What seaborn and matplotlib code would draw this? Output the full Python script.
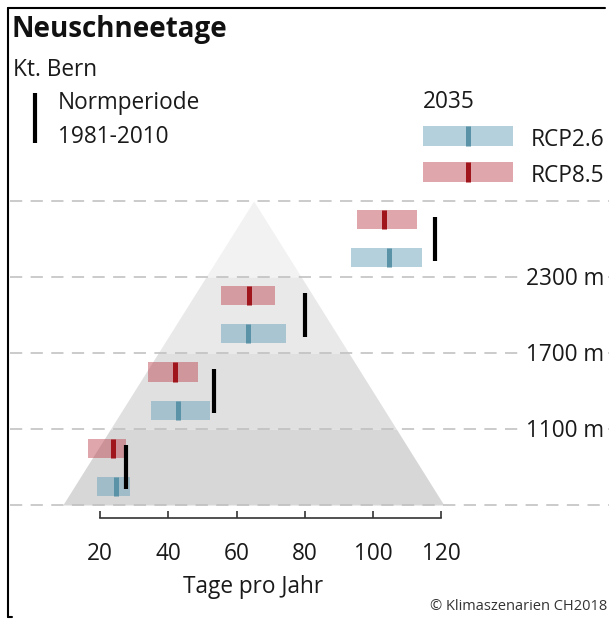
import numpy as np
import matplotlib
matplotlib.use('Agg')
import matplotlib.pyplot as plt
from matplotlib.lines import Line2D
import seaborn as sns

# Elevation bands (m), top to bottom
band_top = [2900, 2300, 1700, 1100]
band_bottom = [2300, 1700, 1100, 500]
band_labels = ['2300 m', '1700 m', '1100 m']

# Neuschneetage 2035, ranges and medians (days per year)
rcp26_low = [93.6, 55.4, 34.9, 19.0]
rcp26_high = [114.2, 74.5, 52.1, 28.9]
rcp26_median = [104.6, 63.2, 42.8, 24.6]
rcp85_low = [95.3, 55.4, 34.1, 16.6]
rcp85_high = [112.7, 71.2, 48.7, 27.7]
rcp85_median = [103.2, 63.6, 42.1, 23.8]

# Normperiode 1981-2010
normperiode = [118.1, 80.1, 53.5, 27.5]

x_ticks = [20, 40, 60, 80, 100, 120]

# colours
BLUE_BAR = '#6aa3bb'
BLUE_MED = '#5a93a8'
RED_BAR = '#c0505a'
RED_MED = '#a0141b'
BAND_GREYS = ['#f2f2f2', '#e9e9e9', '#e0e0e0', '#d7d7d7']
TXT = '#1a1a1a'
FS = 16.3

W, H = 609, 619


def fx(px):
    return px / W


def fy(py):
    return 1 - py / H


def tri_x(e):
    """left/right edge of the mountain triangle at elevation e"""
    left, right, apex, base, top = 9.1, 120.7, 65.0, 500, 2900
    f = (e - base) / (top - base)
    return left + f * (apex - left), right - f * (right - apex)


def draw_range(ax, y, low, high, med, bar_col, med_col, h=150):
    ax.barh(y, high - low, left=low, height=h, color=bar_col, alpha=0.5,
            linewidth=0, zorder=2)
    ax.plot([med, med], [y - h / 2, y + h / 2], color=med_col, lw=3.6,
            solid_capstyle='butt', zorder=3)


def main():
    sns.set_style('white')
    plt.rcParams['font.family'] = ['Open Sans', 'DejaVu Sans']

    fig = plt.figure(figsize=(W / 100, H / 100), dpi=100)
    ax = fig.add_axes([fx(10), fy(518), fx(599), (518 - 8) / H])
    ax.set_xlim(-6.35, 169.05)
    ax.set_ylim(397.4, 4423.6)

    # mountain
    for top, bottom, grey in zip(band_top, band_bottom, BAND_GREYS):
        ys = np.array([bottom, top])
        l0, r0 = tri_x(bottom)
        l1, r1 = tri_x(top)
        ax.fill_betweenx(ys, [l0, l1], [r0, r1], color=grey, lw=0, zorder=0)

    # elevation lines
    for e in [2900, 2300, 1700, 1100, 500]:
        ax.axhline(e, color='#bdbdbd', lw=1.1, dashes=(8, 5.5), zorder=1)
    for e, lab in zip(band_bottom[:3], band_labels):
        ax.text(167.6, e - 60, lab, ha='right', va='baseline', fontsize=FS,
                color=TXT, zorder=4,
                bbox=dict(facecolor='white', edgecolor='none', pad=3))

    for i in range(len(band_top)):
        top = band_top[i]
        bottom = band_bottom[i]
        draw_range(ax, top - 150, rcp85_low[i], rcp85_high[i], rcp85_median[i],
                   RED_BAR, RED_MED)
        draw_range(ax, bottom + 150, rcp26_low[i], rcp26_high[i], rcp26_median[i],
                   BLUE_BAR, BLUE_MED)
        mid = (top + bottom) / 2
        ax.plot([normperiode[i]] * 2, [mid - 170, mid + 170], color='black',
                lw=3, solid_capstyle='butt', zorder=3)

    # legend
    ax.plot([0.97, 0.97], [3358, 3752], color='black', lw=3,
            solid_capstyle='butt')
    fig.text(fx(58), fy(109), 'Normperiode', va='baseline', fontsize=FS, color=TXT)
    fig.text(fx(58), fy(143), '1981-2010', va='baseline', fontsize=FS, color=TXT)
    fig.text(fx(423), fy(108), '2035', va='baseline', fontsize=FS, color=TXT)
    draw_range(ax, 3415, 114.7, 140.8, 127.8, BLUE_BAR, BLUE_MED, h=158)
    draw_range(ax, 3126, 114.7, 140.8, 127.8, RED_BAR, RED_MED, h=158)
    fig.text(fx(531), fy(145.5), 'RCP2.6', va='baseline', fontsize=FS, color=TXT)
    fig.text(fx(531), fy(181.5), 'RCP8.5', va='baseline', fontsize=FS, color=TXT)

    # x axis
    sns.despine(ax=ax, left=True, top=True, right=True)
    ax.spines['bottom'].set_bounds(20, 120)
    ax.spines['bottom'].set_color('#333333')
    ax.spines['bottom'].set_linewidth(1.2)
    ax.set_xticks(x_ticks)
    ax.set_yticks([])
    ax.tick_params(axis='x', direction='in', length=5, width=1.2,
                   color='#333333', pad=17.5, labelsize=FS,
                   labelcolor=TXT, bottom=True)

    fig.text(fx(253), fy(593), 'Tage pro Jahr', ha='center', va='baseline',
             fontsize=FS, color=TXT)
    fig.text(fx(12), fy(36.5), 'Neuschneetage', ha='left', va='baseline',
             fontsize=20, fontweight='bold', color='#111111')
    fig.text(fx(13), fy(75.5), 'Kt. Bern', ha='left', va='baseline',
             fontsize=FS, color=TXT)
    fig.text(fx(607), fy(607), '© Klimaszenarien CH2018', ha='right',
             va='center', fontsize=10.5, color='#333333')

    # frame
    fig.add_artist(Line2D([fx(8), fx(605)], [fy(8), fy(8)], color='black', lw=1.5))
    fig.add_artist(Line2D([fx(8), fx(8)], [fy(8), fy(617)], color='black', lw=1.5))
    fig.add_artist(Line2D([fx(8), fx(12)], [fy(617), fy(617)], color='black', lw=1.5))

    fig.savefig('out.png', dpi=100)
    plt.close(fig)


if __name__ == '__main__':
    main()
